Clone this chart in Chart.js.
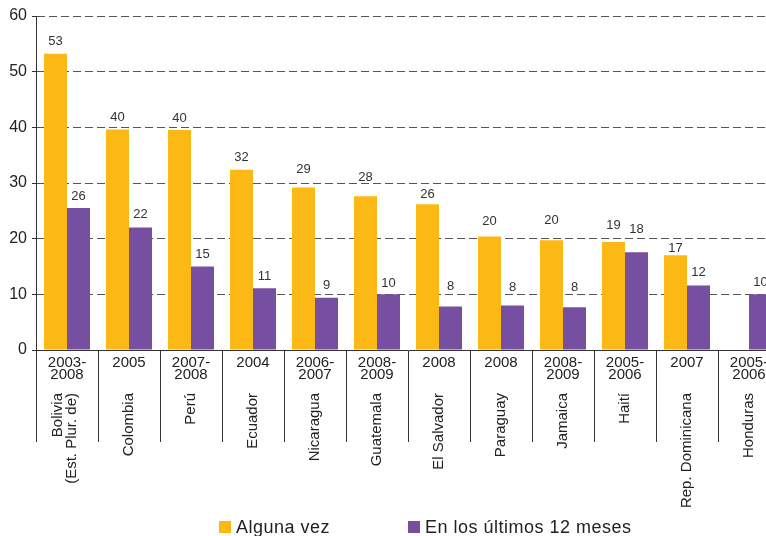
<!DOCTYPE html>
<html lang="es">
<head>
<meta charset="utf-8">
<title>Alguna vez / En los últimos 12 meses</title>
<script src="https://cdn.jsdelivr.net/npm/chart.js@4.4.1/dist/chart.umd.min.js"></script>
<style>
  html, body { margin: 0; padding: 0; background: #fff; }
  #marco { width: 766px; height: 536px; overflow: hidden; }
</style>
</head>
<body>
<div id="marco"><canvas id="grafico" width="790" height="536"></canvas></div>
<script>
// Datos
const paises = [
    ['Bolivia', '(Est. Plur. de)'], ['Colombia'], ['Perú'], ['Ecuador'], ['Nicaragua'],
    ['Guatemala'], ['El Salvador'], ['Paraguay'], ['Jamaica'], ['Haití'],
    ['Rep. Dominicana'], ['Honduras']
];
const periodos = [
    ['2003-', '2008'], ['2005'], ['2007-', '2008'], ['2004'], ['2006-', '2007'],
    ['2008-', '2009'], ['2008'], ['2008'], ['2008-', '2009'], ['2005-', '2006'],
    ['2007'], ['2005-', '2006']
];
const series = ['Alguna vez', 'En los últimos 12 meses'];
const algunaVez = [53.2, 39.6, 39.5, 32.4, 29.2, 27.6, 26.2, 20.4, 19.7, 19.4, 17.0, null];
const ultimos12 = [25.5, 22.0, 15.0, 11.1, 9.4, 10.0, 7.8, 8.0, 7.7, 17.55, 11.6, 10.0];
const ticksY = [0, 10, 20, 30, 40, 50, 60];

// Estilo
const colores = ['#FCB814', '#774FA0'];
const fuente = '"Liberation Sans", Arial, sans-serif';
// distancia (px) entre la parte superior de cada barra y su etiqueta
const separacion = [
    [12, 12, 12, 12, 18, 19, 10, 15, 20, 17, 7, 12],
    [12, 13, 12, 12, 12, 11, 20, 18, 20, 23, 13, 12]
];

Chart.defaults.font.family = fuente;

const rotulos = {
    id: 'rotulos',
    afterDatasetsDraw(chart) {
        const ctx = chart.ctx;
        ctx.save();
        ctx.font = '13px ' + fuente;
        ctx.fillStyle = '#333';
        ctx.textAlign = 'center';
        ctx.textBaseline = 'middle';
        chart.data.datasets.forEach((ds, i) => {
            chart.getDatasetMeta(i).data.forEach((bar, j) => {
                const v = ds.data[j];
                if (v == null) return;
                ctx.fillText(Math.round(v), bar.x, bar.y - separacion[i][j]);
            });
        });
        ctx.restore();
    },
    afterDraw(chart) {
        const ctx = chart.ctx;
        const escalaX = chart.scales.x;
        const base = chart.chartArea.bottom;
        ctx.save();
        ctx.fillStyle = '#222';

        // periodos y paises bajo el eje
        paises.forEach((lineas, i) => {
            const cx = escalaX.getPixelForValue(i);
            ctx.font = '15px ' + fuente;
            ctx.textAlign = 'center';
            ctx.textBaseline = 'alphabetic';
            periodos[i].forEach((t, k) => ctx.fillText(t, cx, base + 17 + k * 12));

            const n = lineas.length;
            lineas.forEach((t, k) => {
                ctx.save();
                ctx.translate(cx + 4 + (k - (n - 1) / 2) * 14 - (n > 1 ? 2 : 0), base + 43);
                ctx.rotate(-Math.PI / 2);
                ctx.textAlign = 'right';
                ctx.fillText(t, 0, 0);
                ctx.restore();
            });
        });

        // leyenda
        const posLeyenda = [219, 408];
        ctx.font = '18px ' + fuente;
        ctx.letterSpacing = '0.5px';
        ctx.textAlign = 'left';
        series.forEach((s, i) => {
            ctx.fillStyle = colores[i];
            ctx.fillRect(posLeyenda[i], 521, 12, 12);
            ctx.fillStyle = '#222';
            ctx.fillText(s, posLeyenda[i] + 17, 533);
        });
        ctx.restore();
    }
};

new Chart(document.getElementById('grafico'), {
    type: 'bar',
    data: {
        labels: paises.map(p => p.join(' ')),
        datasets: [
            { label: series[0], data: algunaVez, backgroundColor: colores[0] },
            { label: series[1], data: ultimos12, backgroundColor: colores[1] }
        ]
    },
    options: {
        responsive: false,
        animation: false,
        layout: { padding: { top: 16, right: 10, left: 0, bottom: 0 } },
        datasets: {
            bar: { categoryPercentage: 0.742, barPercentage: 1 }
        },
        plugins: {
            legend: { display: false },
            tooltip: { enabled: false }
        },
        scales: {
            x: {
                ticks: { display: false },
                grid: {
                    offset: true,
                    drawOnChartArea: false,
                    drawTicks: true,
                    tickLength: 92,
                    color: '#333',
                    lineWidth: 1
                },
                border: { color: '#333', width: 1 },
                afterFit(s) { s.height = 186; }
            },
            y: {
                min: ticksY[0],
                max: ticksY[ticksY.length - 1],
                ticks: {
                    stepSize: ticksY[1] - ticksY[0],
                    color: '#222',
                    padding: 5,
                    font: { size: 16 }
                },
                grid: { color: '#555', lineWidth: 1, tickLength: 4, tickColor: '#333' },
                border: { color: '#333', width: 1, dash: [8, 4] },
                afterFit(s) { s.width = 36; }
            }
        }
    },
    plugins: [rotulos]
});
</script>
</body>
</html>
